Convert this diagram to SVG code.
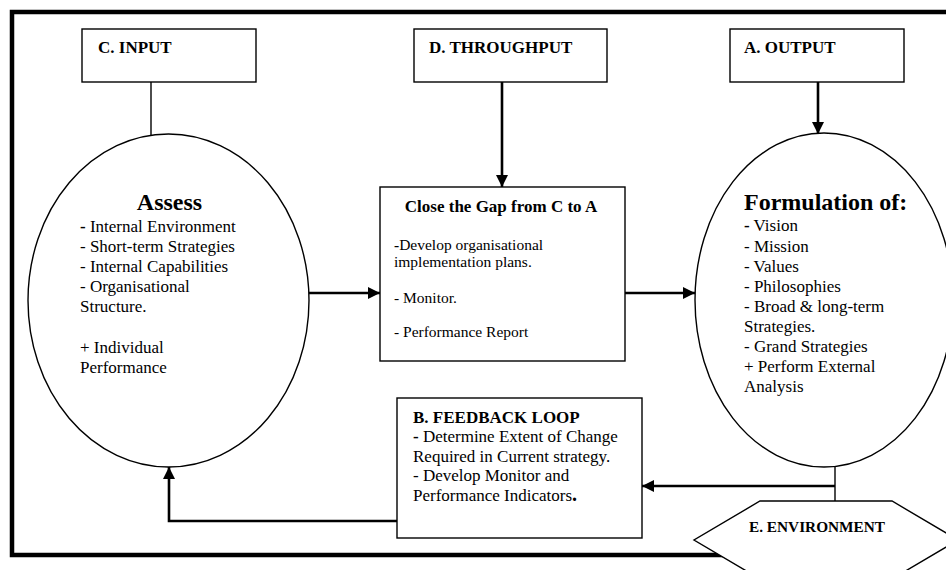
<svg xmlns="http://www.w3.org/2000/svg" width="946" height="570" viewBox="0 0 946 570">
<defs>
<marker id="ah" markerUnits="userSpaceOnUse" markerWidth="12" markerHeight="12" refX="12" refY="6" orient="auto">
<path d="M0,0 L12,6 L0,12 z" fill="#000"/>
</marker>
<style>
text{font-family:"Liberation Serif","Times New Roman",serif;fill:#000}
.hd{font-size:17px;font-weight:bold}
.big{font-size:24px;font-weight:bold}
.bd{font-size:17px}
.sm{font-size:15.5px}
.b{font-weight:bold}
.shape{fill:#fff;stroke:#000;stroke-width:1.4}
.thin{fill:none;stroke:#000;stroke-width:1.4}
.thick{fill:none;stroke:#000;stroke-width:2.6}
.frame{fill:none;stroke:#000;stroke-width:4.5}
</style>
</defs>
<rect width="946" height="570" fill="#fff"/>
<g id="frame">
<path class="frame" d="M946,12 L12,12 L12,555 L740,555"/>
</g>
<g id="connectors">
<line class="thin" x1="151" y1="82" x2="151" y2="135"/>
<line class="thick" x1="502" y1="82" x2="502" y2="187" marker-end="url(#ah)"/>
<line class="thick" x1="818" y1="82" x2="818" y2="134" marker-end="url(#ah)"/>
<line class="thick" x1="309" y1="293" x2="380" y2="293" marker-end="url(#ah)"/>
<line class="thick" x1="625" y1="293" x2="695" y2="293" marker-end="url(#ah)"/>
<line class="thin" x1="835" y1="467" x2="835" y2="501"/>
<line class="thick" x1="835" y1="486" x2="642" y2="486" marker-end="url(#ah)"/>
<path class="thick" d="M397,521 L169,521 L169,467" marker-end="url(#ah)"/>
</g>
<g id="input">
<rect class="shape" x="82" y="29" width="174" height="53"/>
<text class="hd" x="98" y="53">C. INPUT</text>
</g>
<g id="throughput">
<rect class="shape" x="414" y="29" width="193" height="53"/>
<text class="hd" x="429" y="53">D. THROUGHPUT</text>
</g>
<g id="output">
<rect class="shape" x="730" y="29" width="174" height="53"/>
<text class="hd" x="744" y="53">A. OUTPUT</text>
</g>
<g id="assess">
<ellipse class="shape" cx="168.5" cy="300.5" rx="140.5" ry="166.5"/>
<text class="big" x="169.5" y="210" text-anchor="middle">Assess</text>
<text class="bd" x="80" y="232"><tspan class="b">-</tspan> Internal Environment</text>
<text class="bd" x="80" y="252">- Short-term Strategies</text>
<text class="bd" x="80" y="272">- Internal Capabilities</text>
<text class="bd" x="80" y="292">- Organisational</text>
<text class="bd" x="80" y="312">Structure.</text>
<text class="bd" x="80" y="353">+ Individual</text>
<text class="bd" x="80" y="373">Performance</text>
</g>
<g id="closegap">
<rect class="shape" x="380" y="187" width="245" height="174"/>
<text class="hd" x="501" y="212" text-anchor="middle">Close the Gap from C to A</text>
<text class="sm" x="394" y="250"><tspan class="b">-</tspan>Develop organisational</text>
<text class="sm" x="394" y="267">implementation plans.</text>
<text class="sm" x="394" y="303">- Monitor.</text>
<text class="sm" x="394" y="337">- Performance Report</text>
</g>
<g id="formulation">
<ellipse class="shape" cx="824" cy="300" rx="129" ry="167"/>
<text class="big" x="744" y="210">Formulation of:</text>
<text class="bd" x="744" y="231"><tspan class="b">-</tspan> Vision</text>
<text class="bd" x="744" y="252">- Mission</text>
<text class="bd" x="744" y="272">- Values</text>
<text class="bd" x="744" y="292">- Philosophies</text>
<text class="bd" x="744" y="312">- Broad &amp; long-term</text>
<text class="bd" x="744" y="332">Strategies.</text>
<text class="bd" x="744" y="352">- Grand Strategies</text>
<text class="bd" x="744" y="372">+ Perform External</text>
<text class="bd" x="744" y="392">Analysis</text>
</g>
<g id="feedback">
<rect class="shape" x="397" y="398" width="245" height="140"/>
<text class="hd" x="413" y="423">B. FEEDBACK LOOP</text>
<text class="bd" x="413" y="442"><tspan class="b">-</tspan> Determine Extent of Change</text>
<text class="bd" x="413" y="462">Required in Current strategy.</text>
<text class="bd" x="413" y="481">- Develop Monitor and</text>
<text class="bd" x="413" y="501">Performance Indicators<tspan class="b" font-size="20px">.</tspan></text>
</g>
<g id="environment">
<polygon class="shape" points="760,501 892,501 958,540 892,579 760,579 694,540"/>
<text class="hd" x="817" y="532" text-anchor="middle" style="font-size:15.3px">E. ENVIRONMENT</text>
</g>
</svg>
